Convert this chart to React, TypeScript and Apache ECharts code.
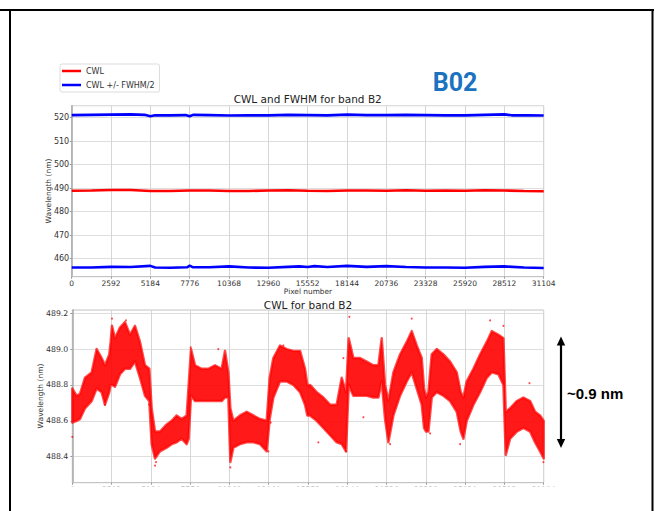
import React, { useEffect, useRef } from 'react';
import * as echarts from 'echarts';

// ---------- top panel: CWL and CWL +/- FWHM/2 ----------
const cwlX = [0, 1296, 2592, 3888, 5184, 6480, 7776, 9072, 10368, 11664, 12960, 14256, 15552, 16848, 18144, 19440, 20736, 22032, 23328, 24624, 25920, 27216, 28512, 29808, 31104];
const cwlY = [488.9, 489.0, 489.2, 489.2, 488.8, 488.8, 489.0, 489.0, 488.8, 488.8, 489.0, 489.1, 488.9, 488.8, 489.0, 489.0, 488.9, 489.1, 488.9, 489.0, 488.9, 489.1, 489.0, 488.8, 488.7];

const upperX = [0, 1296, 2592, 3888, 4800, 5184, 5500, 6480, 7500, 7776, 8000, 9072, 10368, 11664, 12960, 14256, 15552, 16848, 18144, 19440, 20736, 22032, 23328, 24624, 25920, 27216, 28512, 29000, 30000, 31104];
const upperY = [521.1, 521.2, 521.3, 521.4, 521.2, 520.6, 521.0, 521.0, 521.1, 520.6, 521.2, 521.1, 520.9, 521.0, 521.0, 521.2, 521.1, 521.0, 521.3, 521.1, 521.1, 521.2, 521.1, 521.0, 521.0, 521.2, 521.4, 521.0, 521.0, 520.9];

const lowerX = [0, 1296, 2592, 3888, 5184, 5500, 6480, 7600, 7776, 8000, 9072, 10368, 11664, 12960, 14256, 15000, 15552, 16000, 16848, 18144, 19440, 20736, 22032, 23328, 24624, 25920, 27216, 28512, 29808, 31104];
const lowerY = [456.2, 456.2, 456.5, 456.4, 456.9, 456.2, 456.1, 456.3, 457.0, 456.3, 456.3, 456.7, 456.2, 456.1, 456.5, 456.7, 456.4, 456.8, 456.4, 456.9, 456.5, 456.8, 456.4, 456.2, 456.2, 456.1, 456.5, 456.7, 456.2, 456.0];

// ---------- bottom panel: CWL scatter (dense band envelope + stray points) ----------
const bandX = [0, 286, 506, 836, 1276, 1606, 1936, 2156, 2442, 2530, 2618, 2816, 3146, 3476, 3806, 4136, 4466, 4796, 5082, 5236, 5456, 5786, 6226, 6556, 6886, 7216, 7546, 7678, 7832, 8096, 8536, 8976, 9416, 9856, 10076, 10296, 10428, 10626, 11066, 11506, 11946, 12386, 12826, 13024, 13266, 13706, 14146, 14586, 15026, 15356, 15510, 15686, 16126, 16566, 17006, 17446, 17776, 18062, 18238, 18546, 18986, 19426, 19866, 20196, 20416, 20636, 20856, 21186, 21626, 22066, 22396, 22726, 23056, 23210, 23342, 23496, 23716, 24046, 24486, 24926, 25366, 25630, 25806, 26026, 26466, 26906, 27346, 27676, 28116, 28446, 28600, 28886, 29326, 29766, 30206, 30536, 30866, 31104];
const bandHi = [488.78, 488.74, 488.75, 488.84, 488.87, 489.0, 488.95, 488.91, 488.97, 489.04, 489.13, 489.06, 489.12, 489.15, 489.08, 489.13, 489.04, 488.91, 488.89, 488.67, 488.54, 488.54, 488.58, 488.6, 488.63, 488.61, 488.63, 488.8, 489.0, 488.91, 488.89, 488.89, 488.91, 488.89, 488.99, 488.87, 488.67, 488.6, 488.63, 488.65, 488.63, 488.61, 488.6, 488.84, 488.95, 489.02, 489.0, 488.99, 488.99, 488.89, 488.8, 488.8, 488.76, 488.73, 488.69, 488.69, 488.84, 488.76, 489.06, 488.95, 488.95, 488.93, 488.91, 488.91, 489.06, 488.8, 488.71, 488.87, 488.97, 489.04, 489.1, 489.02, 488.95, 488.78, 488.73, 488.76, 488.97, 489.0, 488.97, 488.93, 488.87, 488.76, 488.73, 488.82, 488.89, 488.97, 489.04, 489.1, 489.08, 489.06, 488.65, 488.67, 488.71, 488.73, 488.71, 488.65, 488.63, 488.6];
const bandLo = [488.59, 488.6, 488.61, 488.67, 488.71, 488.78, 488.76, 488.69, 488.76, 488.8, 488.8, 488.79, 488.86, 488.89, 488.89, 488.93, 488.84, 488.74, 488.71, 488.47, 488.39, 488.43, 488.45, 488.47, 488.48, 488.5, 488.47, 488.5, 488.74, 488.71, 488.71, 488.71, 488.71, 488.71, 488.73, 488.73, 488.37, 488.45, 488.47, 488.48, 488.48, 488.47, 488.43, 488.61, 488.73, 488.82, 488.82, 488.8, 488.76, 488.69, 488.63, 488.63, 488.6, 488.56, 488.52, 488.48, 488.47, 488.43, 488.8, 488.74, 488.74, 488.74, 488.73, 488.73, 488.82, 488.61, 488.48, 488.63, 488.74, 488.82, 488.87, 488.78, 488.69, 488.56, 488.54, 488.54, 488.73, 488.76, 488.74, 488.71, 488.65, 488.54, 488.5, 488.6, 488.69, 488.76, 488.84, 488.87, 488.86, 488.8, 488.41, 488.5, 488.54, 488.56, 488.54, 488.48, 488.43, 488.39];

const strayX = [0, 2618, 3542, 5456, 5520, 10428, 13090, 13926, 17886, 18062, 18282, 22396, 27566, 28446, 30162, 31086, 16236, 19206, 20966, 25586, 23606, 12936, 5082, 2156, 7810, 9630];
const strayY = [488.51, 489.17, 489.16, 488.35, 488.37, 488.34, 488.59, 489.02, 488.95, 488.43, 489.18, 489.17, 489.16, 489.13, 488.81, 488.37, 488.48, 488.62, 488.47, 488.47, 488.53, 488.43, 488.69, 488.69, 489.01, 489.0];

const pixelTickStep = 2592;
const pixelMax = 31104;

const DV = '"DejaVu Sans"';
const txt = '#333';

export default function App() {
  const ref = useRef<HTMLDivElement>(null);
  useEffect(() => {
    if (!ref.current) return;
    const chart = echarts.init(ref.current, null, { renderer: 'svg' });

    const pairs = (xs: number[], ys: number[]) => xs.map((x, i) => [x, ys[i]]);

    const xAxisBase = (gridIndex: number) => ({
      type: 'value',
      gridIndex,
      min: 0,
      max: pixelMax,
      interval: pixelTickStep,
      axisLine: { show: true, lineStyle: { color: '#c4c4c4', width: 1 } },
      axisTick: { show: true, length: 2, lineStyle: { color: '#999' } },
      axisLabel: { fontSize: 7.5, fontFamily: DV, color: txt, margin: 2.5, interval: 0, formatter: (v: number) => String(v) },
      splitLine: { show: true, lineStyle: { color: '#d6d6d6', width: 1 } },
    });

    const option: any = {
      animation: false,
      backgroundColor: '#fff',
      legend: {
        data: ['CWL', 'CWL +/- FWHM/2'],
        left: 60,
        top: 64,
        orient: 'vertical',
        icon: 'rect',
        itemWidth: 19,
        itemHeight: 2.5,
        itemGap: 6,
        padding: [3, 5, 3, 2],
        backgroundColor: '#fff',
        borderColor: '#dcdcdc',
        borderWidth: 1,
        borderRadius: 2,
        textStyle: { fontSize: 8, fontFamily: DV, color: txt },
      },
      grid: [
        { left: 71.7, right: 111.3, top: 105.7, height: 171, show: true, borderColor: '#c4c4c4', borderWidth: 1 },
        { left: 72.3, right: 111.3, top: 310, height: 172.7, show: true, borderColor: '#c4c4c4', borderWidth: 1 },
      ],
      xAxis: [xAxisBase(0), xAxisBase(1)],
      yAxis: [
        {
          type: 'value',
          gridIndex: 0,
          min: 452.3,
          max: 525.1,
          splitNumber: 7,
          axisLine: { show: true, lineStyle: { color: '#a8a8a8', width: 1.5 } },
          axisTick: { show: true, length: 2, lineStyle: { color: '#999' } },
          axisLabel: { fontSize: 8, fontFamily: DV, color: txt, margin: 2.5, showMinLabel: false, showMaxLabel: false },
          splitLine: { show: true, lineStyle: { color: '#dedede', width: 1 } },
        },
        {
          type: 'value',
          gridIndex: 1,
          min: 488.255,
          max: 489.218,
          splitNumber: 5,
          axisLine: { show: true, lineStyle: { color: '#a8a8a8', width: 1.5 } },
          axisTick: { show: true, length: 2, lineStyle: { color: '#999' } },
          axisLabel: {
            fontSize: 7.8, fontFamily: DV, color: txt, margin: 4,
            showMinLabel: false, showMaxLabel: false,
            formatter: (v: number) => v.toFixed(1),
          },
          splitLine: { show: true, lineStyle: { color: '#dedede', width: 1 } },
        },
      ],
      series: [
        {
          name: 'CWL +/- FWHM/2', type: 'line', xAxisIndex: 0, yAxisIndex: 0,
          data: pairs(upperX, upperY), showSymbol: false, symbol: 'none',
          lineStyle: { color: '#0000ff', width: 2.6 }, itemStyle: { color: '#0000ff' },
        },
        {
          name: 'CWL +/- FWHM/2', type: 'line', xAxisIndex: 0, yAxisIndex: 0,
          data: pairs(lowerX, lowerY), showSymbol: false, symbol: 'none',
          lineStyle: { color: '#0000ff', width: 2.6 }, itemStyle: { color: '#0000ff' },
        },
        {
          name: 'CWL', type: 'line', xAxisIndex: 0, yAxisIndex: 0,
          data: pairs(cwlX, cwlY), showSymbol: false, symbol: 'none',
          lineStyle: { color: '#ff0000', width: 2.6 }, itemStyle: { color: '#ff0000' },
        },
        {
          name: 'band', type: 'custom', xAxisIndex: 1, yAxisIndex: 1,
          data: bandX.map((x, i) => [x, bandHi[i], bandLo[i]]),
          encode: { x: 0, y: [1, 2] },
          silent: true,
          renderItem: (params: any, api: any) => {
            if (params.dataIndex !== 0) return null;
            const pts: number[][] = [];
            for (let i = 0; i < bandX.length; i++) pts.push(api.coord([bandX[i], bandHi[i]]));
            for (let i = bandX.length - 1; i >= 0; i--) pts.push(api.coord([bandX[i], bandLo[i]]));
            return {
              type: 'polygon',
              shape: { points: pts },
              style: { fill: 'rgba(255,0,0,0.9)', stroke: 'rgba(255,0,0,0.7)', lineWidth: 2.5, lineJoin: 'round' },
            };
          },
        },
        {
          name: 'stray', type: 'scatter', xAxisIndex: 1, yAxisIndex: 1,
          data: pairs(strayX, strayY), symbolSize: 2, silent: true,
          itemStyle: { color: '#ff0000', opacity: 0.7 },
        },
      ],
      graphic: [
        // slide frame
        { type: 'line', shape: { x1: 0, y1: 10, x2: 654, y2: 10 }, style: { stroke: '#000', lineWidth: 2 }, z: 100 },
        { type: 'line', shape: { x1: 10, y1: 9, x2: 10, y2: 511 }, style: { stroke: '#000', lineWidth: 2 }, z: 100 },
        { type: 'line', shape: { x1: 652.5, y1: 9, x2: 652.5, y2: 511 }, style: { stroke: '#000', lineWidth: 2 }, z: 100 },
        // crop of the lower panel's tick labels
        { type: 'rect', shape: { x: 12, y: 486.5, width: 639, height: 25 }, style: { fill: '#fff' }, z: 99 },
        // titles and axis names
        { type: 'text', x: 307.7, y: 98.5, style: { text: 'CWL and FWHM for band B2', font: `10.5px ${DV}`, fill: '#222', align: 'center', verticalAlign: 'middle' }, z: 50 },
        { type: 'text', x: 308, y: 291.5, style: { text: 'Pixel number', font: `7.4px ${DV}`, fill: txt, align: 'center', verticalAlign: 'middle' }, z: 50 },
        { type: 'text', x: 48, y: 191, rotation: Math.PI / 2, style: { text: 'Wavelength (nm)', font: `7.5px ${DV}`, fill: txt, align: 'center', verticalAlign: 'middle' }, z: 50 },
        { type: 'text', x: 308, y: 304.5, style: { text: 'CWL for band B2', font: `10.5px ${DV}`, fill: '#222', align: 'center', verticalAlign: 'middle' }, z: 50 },
        { type: 'text', x: 40.7, y: 396, rotation: Math.PI / 2, style: { text: 'Wavelength (nm)', font: `7.5px ${DV}`, fill: txt, align: 'center', verticalAlign: 'middle' }, z: 50 },
        // band label
        { type: 'text', x: 455, y: 82.5, style: { text: 'B02', font: 'bold 25px Roboto', fill: '#1b72bf', align: 'center', verticalAlign: 'middle' }, z: 50 },
        // double arrow and annotation
        { type: 'line', shape: { x1: 561, y1: 342, x2: 561, y2: 443 }, style: { stroke: '#000', lineWidth: 2.2 }, z: 50 },
        { type: 'polygon', shape: { points: [[561, 336.5], [556.8, 345.5], [565.2, 345.5]] }, style: { fill: '#000' }, z: 50 },
        { type: 'polygon', shape: { points: [[561, 448], [556.8, 439], [565.2, 439]] }, style: { fill: '#000' }, z: 50 },
        { type: 'text', x: 567, y: 393.5, style: { text: '~0.9 nm', font: 'bold 15px "Liberation Sans"', fill: '#000', align: 'left', verticalAlign: 'middle' }, z: 50 },
      ],
    };

    chart.setOption(option);
    return () => chart.dispose();
  }, []);

  return <div ref={ref} style={{ position: 'fixed', left: 0, top: 0, width: 655, height: 511 }} />;
}
